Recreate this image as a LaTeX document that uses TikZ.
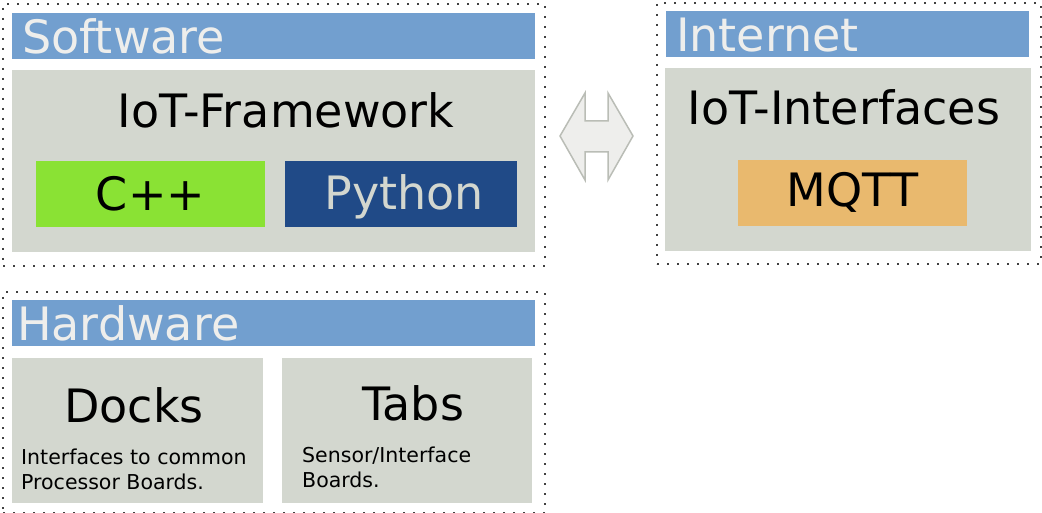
\documentclass[tikz,border=0pt]{standalone}
\usepackage{fontspec}
\setmainfont{DejaVu Sans}
\usepackage{tikz}
\usetikzlibrary{positioning}
\definecolor{skyblue}{HTML}{729FCF}
\definecolor{alu}{HTML}{D3D7CF}
\definecolor{chamgreen}{HTML}{8AE234}
\definecolor{darkblue}{HTML}{204A87}
\definecolor{sand}{HTML}{E9B96E}
\definecolor{lightgrey}{HTML}{EEEEEC}
\definecolor{midgrey}{HTML}{BABDB6}

\begin{document}
\begin{tikzpicture}[
  x=1pt, y=-1pt,
  group/.style={draw=black!75, line width=2pt, dash pattern=on 2pt off 8pt, anchor=north west, inner sep=0pt},
  head/.style={fill=skyblue, anchor=north west, minimum height=46pt, inner xsep=10pt, inner ysep=0pt, align=left,
    text=lightgrey, font=\fontsize{46}{54}\selectfont, text height=34pt, text depth=0pt},
  panel/.style={fill=alu, anchor=north west, inner sep=0pt},
  title/.style={font=\fontsize{46}{54}\selectfont, inner sep=0pt},
  lang/.style={minimum width=229pt, minimum height=66pt, inner sep=0pt, font=\fontsize{46}{54}\selectfont,
    text height=33pt, text depth=0pt},
  note/.style={anchor=base west, align=left, inner sep=0pt, font=\fontsize{20.5}{25}\selectfont},
  link/.style={fill=lightgrey, draw=midgrey, line width=1.5pt, line join=miter}
]
\useasboundingbox (0,0) rectangle (1042,513);

% Software
\node[group, minimum width=542pt, minimum height=262pt] (sw) at (2,3) {};
\node[head, text width=503pt] (swhead) at (12,13) {Software};
\node[panel, minimum width=523pt, minimum height=182pt] (swpanel) at (12,70) {};
\node[title] (fw) at (286,110) {IoT-Framework};
\node[lang, fill=chamgreen] (cpp) at (150.5,194) {C++};
\node[lang, fill=darkblue, minimum width=232pt] (python) at (401,194) {};
\node[title, text=alu] (pythont) at (404,197) {Python};

% Internet
\node[group, minimum width=384pt, minimum height=261pt] (inet) at (656,2) {};
\node[head, text width=343pt] (inethead) at (666,11) {Internet};
\node[panel, minimum width=366pt, minimum height=183pt] (inetpanel) at (665,68) {};
\node[title] (ifc) at (844,107) {IoT-Interfaces};
\node[lang, fill=sand, text depth=5pt] (mqtt) at (852.5,193) {MQTT};

% Hardware
\node[group, minimum width=542pt, minimum height=221pt] (hw) at (2,291) {};
\node[head, text width=513pt, inner xsep=5pt] (hwhead) at (12,300) {Hardware};
\node[panel, minimum width=251pt, minimum height=145pt] (docks) at (12,358) {};
\node[panel, minimum width=250pt, minimum height=145pt] (tabs) at (282,358) {};
\node[title] (dockst) at (134,405) {Docks};
\node[title] (tabst) at (413,403) {Tabs};
\node[note] (docksn) at (21,489) {Interfaces to common\\Processor Boards.};
\node[note] (tabsn) at (302,487) {Sensor/Interface\\Boards.};

% link between software and internet
\draw[link] (585,93) -- (585,121) -- (608,121) -- (608,93) -- (633,136)
  -- (608,180) -- (608,152) -- (585,152) -- (585,180) -- (560,136) -- cycle;
\end{tikzpicture}
\end{document}
